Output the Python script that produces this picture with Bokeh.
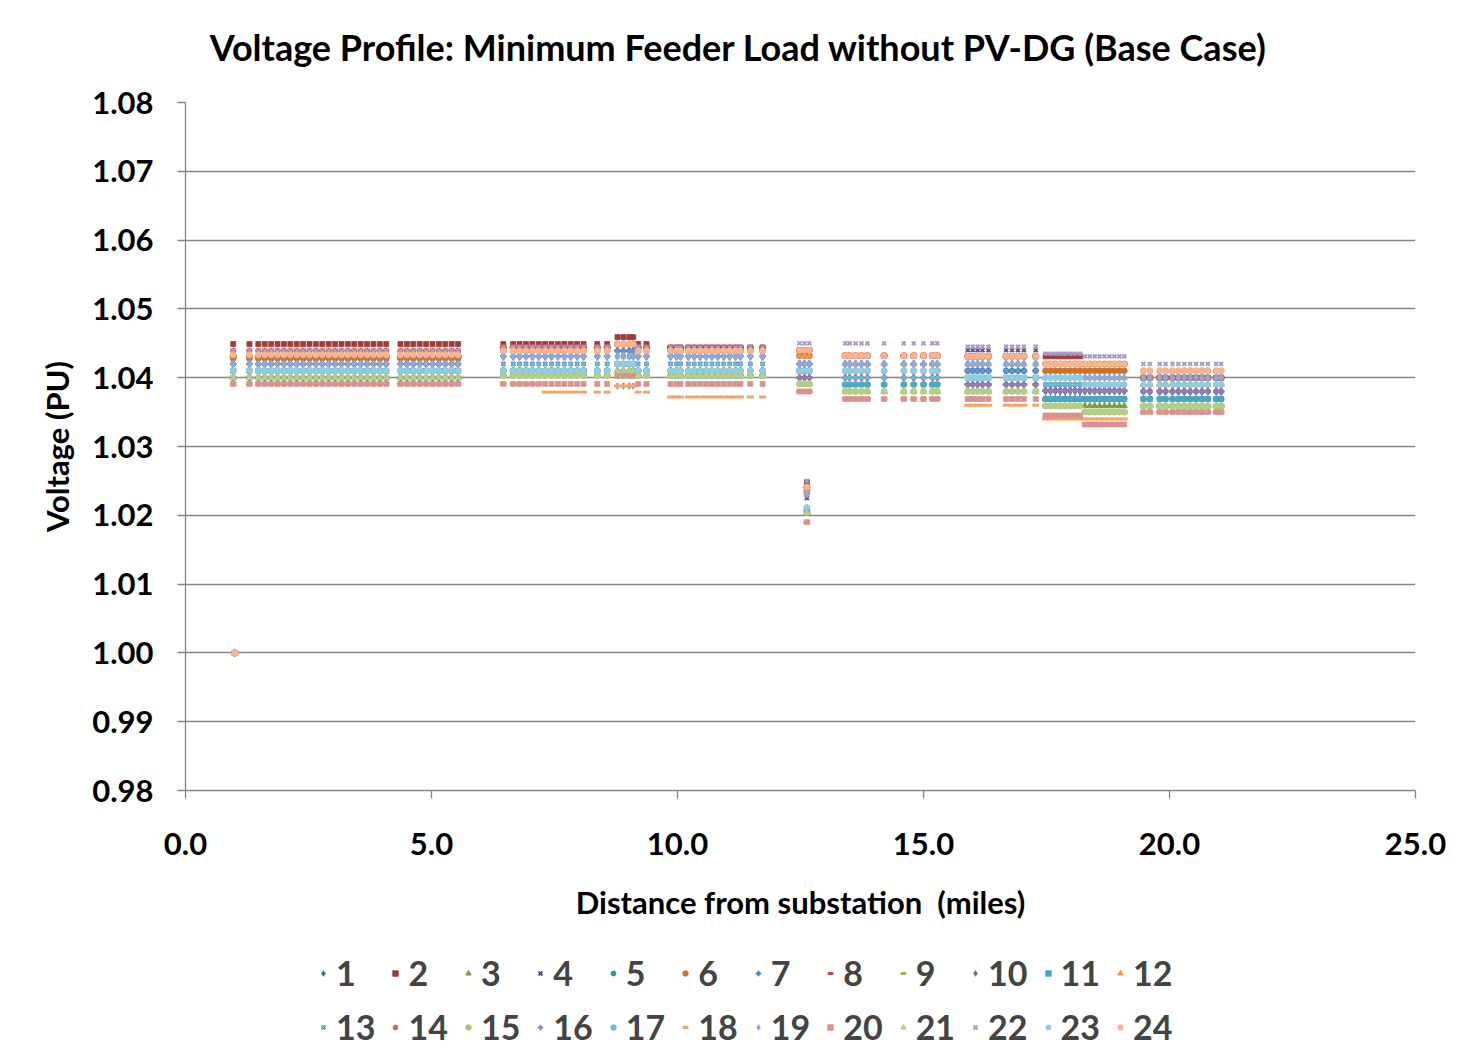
from bokeh.plotting import figure
from bokeh.layouts import column
from bokeh.models import (Legend, LegendItem, FixedTicker, NumeralTickFormatter, Range1d, Label)
from bokeh.embed import file_html
from bokeh.resources import INLINE

# ---------------- data ----------------
series_names = [str(i) for i in range(1, 25)]

x_ticks = [0.0, 5.0, 10.0, 15.0, 20.0, 25.0]
y_ticks = [0.98, 0.99, 1.00, 1.01, 1.02, 1.03, 1.04, 1.05, 1.06, 1.07, 1.08]

# node distances (miles) of each feeder section
a_miles = [0.97, 1.30, 1.48, 1.61, 1.74, 1.87, 2.00, 2.13, 2.26, 2.39, 2.52, 2.65, 2.78,
           2.91, 3.04, 3.17, 3.30, 3.43, 3.56, 3.69, 3.82, 3.95, 4.08, 4.37, 4.50, 4.63,
           4.76, 4.89, 5.02, 5.15, 5.28, 5.41, 5.54]
b1_miles = [6.46, 6.66, 6.79, 6.92, 7.05, 7.18]
b2_miles = [7.31, 7.44, 7.57, 7.70, 7.83, 7.96, 8.09, 8.37, 8.57, 9.20, 9.37]
bp_miles = [8.78, 8.90, 9.02, 9.10]
c_miles = [9.86, 9.98, 10.06, 10.22, 10.34, 10.46, 10.58, 10.70, 10.82, 10.94, 11.06,
           11.18, 11.28, 11.48, 11.73]
d_miles = [12.48, 12.58, 12.68]
e_miles = [13.41, 13.50, 13.62, 13.74, 13.86, 14.20, 14.60, 14.80, 15.00, 15.18, 15.28]
f_miles = [15.90, 16.00, 16.10, 16.20, 16.32, 16.68, 16.80, 16.92, 17.04, 17.28]
g1_miles = [17.48, 17.58, 17.68, 17.78, 17.88, 17.98, 18.08, 18.18]
g2_miles = [18.28, 18.38, 18.48, 18.58, 18.68, 18.78, 18.88, 18.98, 19.08]
h_miles = [19.47, 19.60, 19.80, 19.92, 20.06, 20.18, 20.30, 20.42, 20.54, 20.66, 20.78,
           20.95, 21.05]
low_node_mile = 12.63
source_mile = 1.0

# voltage (PU) of series 1..24 in each section
a_pu = [1.0420, 1.0449, 1.0400, 1.0420, 1.0410, 1.0428, 1.0420, 1.0431, 1.0400, 1.0400, 1.0410, 1.0400,
        1.0420, 1.0439, 1.0400, 1.0400, 1.0410, 1.0391, 1.0420, 1.0391, 1.0400, 1.0439, 1.0410, 1.0433]
b1_pu = [1.0431, 1.0449, 1.0403, 1.0420, 1.0410, 1.0439, 1.0431, 1.0444, 1.0403, 1.0410, 1.0410, 1.0403,
         1.0431, 1.0444, 1.0403, 1.0410, 1.0420, 1.0391, 1.0431, 1.0391, 1.0403, 1.0444, 1.0410, 1.0439]
b2_pu = [1.0431, 1.0449, 1.0403, 1.0420, 1.0410, 1.0439, 1.0431, 1.0444, 1.0403, 1.0410, 1.0410, 1.0403,
         1.0431, 1.0444, 1.0403, 1.0410, 1.0420, 1.0379, 1.0431, 1.0391, 1.0403, 1.0444, 1.0410, 1.0439]
bp_pu = [1.0439, 1.0459, 1.0410, 1.0431, 1.0420, 1.0449, 1.0439, 1.0449, 1.0449, 1.0410, 1.0420, 1.0449,
         1.0439, 1.0449, 1.0403, 1.0388, 1.0420, 1.0388, 1.0431, 1.0403, 1.0410, 1.0449, 1.0420, 1.0449]
c_pu = [1.0431, 1.0444, 1.0403, 1.0420, 1.0410, 1.0439, 1.0431, 1.0444, 1.0403, 1.0410, 1.0403, 1.0403,
        1.0431, 1.0439, 1.0403, 1.0410, 1.0420, 1.0372, 1.0431, 1.0391, 1.0403, 1.0444, 1.0410, 1.0439]
d_pu = [1.0420, 1.0440, 1.0391, 1.0420, 1.0410, 1.0432, 1.0420, 1.0440, 1.0400, 1.0400, 1.0410, 1.0432,
        1.0420, 1.0440, 1.0391, 1.0400, 1.0410, 1.0380, 1.0420, 1.0380, 1.0391, 1.0450, 1.0410, 1.0440]
e_pu = [1.0420, 1.0432, 1.0380, 1.0410, 1.0410, 1.0432, 1.0420, 1.0432, 1.0390, 1.0400, 1.0390, 1.0420,
        1.0410, 1.0432, 1.0380, 1.0400, 1.0400, 1.0369, 1.0420, 1.0369, 1.0380, 1.0450, 1.0410, 1.0432]
f_pu = [1.0420, 1.0431, 1.0380, 1.0440, 1.0410, 1.0431, 1.0410, 1.0431, 1.0390, 1.0390, 1.0400, 1.0420,
        1.0410, 1.0431, 1.0380, 1.0390, 1.0400, 1.0360, 1.0420, 1.0369, 1.0380, 1.0445, 1.0400, 1.0431]
g1_pu = [1.0381, 1.0431, 1.0369, 1.0390, 1.0369, 1.0410, 1.0381, 1.0420, 1.0359, 1.0381, 1.0369, 1.0400,
         1.0390, 1.0420, 1.0359, 1.0381, 1.0390, 1.0340, 1.0400, 1.0345, 1.0359, 1.0435, 1.0400, 1.0420]
g2_pu = [1.0381, 1.0420, 1.0359, 1.0390, 1.0369, 1.0410, 1.0381, 1.0420, 1.0350, 1.0381, 1.0369, 1.0400,
         1.0390, 1.0420, 1.0350, 1.0381, 1.0390, 1.0340, 1.0400, 1.0332, 1.0350, 1.0431, 1.0390, 1.0420]
h_pu = [1.0390, 1.0400, 1.0359, 1.0380, 1.0369, 1.0400, 1.0380, 1.0400, 1.0359, 1.0380, 1.0369, 1.0390,
        1.0390, 1.0410, 1.0359, 1.0380, 1.0390, 1.0350, 1.0400, 1.0350, 1.0359, 1.0420, 1.0390, 1.0410]
low_node_pu = [1.0231, 1.0248, 1.0204, 1.0225, 1.0211, 1.0236, 1.0231, 1.0241, 1.0204, 1.0207, 1.0207, 1.0236,
               1.0231, 1.0241, 1.0204, 1.0207, 1.0211, 1.0190, 1.0231, 1.0190, 1.0204, 1.0250, 1.0211, 1.0241]
source_pu = [1.000] * 24

chart_title = "Voltage Profile: Minimum Feeder Load without PV-DG (Base Case)"

# ---------------- styling ----------------
colors = ["#3B639B", "#A13C3A", "#7A9A42", "#654C86", "#3894AA", "#C87332",
          "#4A7EBB", "#BE4B48", "#98B954", "#7D60A0", "#46AAC5", "#F69240",
          "#6C93CB", "#CB6B69", "#A8C66E", "#9580B4", "#66BBD2", "#F8A563",
          "#91A9D6", "#D69392", "#B5CE8E", "#A99BC5", "#92CDDD", "#FAB48C"]
markers = ["diamond", "square", "triangle", "x", "asterisk", "circle",
           "cross", "dash", "dash", "diamond", "square", "triangle",
           "x", "asterisk", "circle", "cross", "circle", "dash",
           "diamond", "square", "triangle", "x", "asterisk", "circle"]
sizes = {"diamond": 8, "square": 5, "triangle": 6.5, "x": 5.5, "asterisk": 6.5,
         "circle": 6, "cross": 6.5, "dash": 7}
line_markers = {"x", "asterisk", "cross", "dash"}

FONT = "Lato"
GRID = "#868686"
W = 1446
TITLE_H = 70
MAIN_H = 870
LEG_H = 107


def strip(height, xr, yr):
    f = figure(width=W, height=height, output_backend="svg", toolbar_location=None,
               x_range=xr, y_range=yr, title=None,
               min_border_left=0, min_border_right=0, min_border_top=0, min_border_bottom=0,
               x_axis_location=None, y_axis_location=None)
    f.xgrid.visible = False
    f.ygrid.visible = False
    f.outline_line_color = None
    return f


# title strip on top (its frame is aligned with the main plot frame, which starts at 185px)
pt = strip(TITLE_H, Range1d(0, 1), Range1d(0, 1))
pt.add_layout(Label(x=553, y=24, x_units="screen", y_units="screen", text=chart_title,
                    text_align="center", text_baseline="middle", text_font=FONT,
                    text_font_style="bold", text_font_size="36px", text_color="black"))

# main chart
p = figure(width=W, height=MAIN_H, output_backend="svg", toolbar_location=None,
           x_range=Range1d(0, 25), y_range=Range1d(0.98, 1.08), title=None,
           min_border_left=185, min_border_right=31, min_border_top=102 - TITLE_H,
           min_border_bottom=MAIN_H + TITLE_H - 790)

# legend-only strip underneath (its ranges keep the series data out of view)
pl = strip(LEG_H, Range1d(-10, -9), Range1d(-10, -9))

sections = [(a_miles, a_pu), (b1_miles, b1_pu), (b2_miles, b2_pu), (bp_miles, bp_pu),
            (c_miles, c_pu), (d_miles, d_pu), (e_miles, e_pu), (f_miles, f_pu),
            (g1_miles, g1_pu), (g2_miles, g2_pu), (h_miles, h_pu)]

items = []
for i, name in enumerate(series_names):
    xs, ys = [], []
    for miles, pu in sections:
        xs += miles
        ys += [pu[i]] * len(miles)
    xs += [low_node_mile, source_mile]
    ys += [low_node_pu[i], source_pu[i]]
    m = markers[i]
    sz = sizes[m]
    if i == 16:
        sz = 4
    lw = 2.0 if m in line_markers else 0.8
    if m == "dash":
        lw = 3
    style = dict(marker=m, size=sz, fill_color=colors[i], line_color=colors[i], line_width=lw)
    p.scatter(xs, ys, **style)
    r_leg = pl.scatter(xs, ys, **style)
    items.append(LegendItem(label=name, renderers=[r_leg]))

# axes
p.xaxis.ticker = FixedTicker(ticks=x_ticks)
p.yaxis.ticker = FixedTicker(ticks=y_ticks)
p.xaxis.formatter = NumeralTickFormatter(format="0.0")
p.yaxis.formatter = NumeralTickFormatter(format="0.00")
for ax in (p.xaxis, p.yaxis):
    ax.axis_line_color = GRID
    ax.axis_line_width = 1.3
    ax.major_tick_line_color = GRID
    ax.major_tick_line_width = 1.3
    ax.major_tick_out = 8
    ax.major_tick_in = 0
    ax.minor_tick_line_color = None
    ax.major_label_text_font = FONT
    ax.major_label_text_font_style = "bold"
    ax.major_label_text_font_size = "31px"
    ax.major_label_text_color = "black"
    ax.axis_label_text_font = FONT
    ax.axis_label_text_font_style = "bold"
    ax.axis_label_text_font_size = "31px"
    ax.axis_label_text_color = "black"

p.xaxis.axis_label = "Distance from substation\u00a0\u00a0(miles)"
p.yaxis.axis_label = "Voltage (PU)"
p.xaxis.major_label_standoff = 34
p.xaxis.axis_label_standoff = 25
p.yaxis.major_label_standoff = 24
p.yaxis.axis_label_standoff = 13

p.xgrid.visible = False
p.ygrid.grid_line_color = GRID
p.ygrid.grid_line_width = 1.3
p.outline_line_color = None

legend = Legend(items=items, orientation="horizontal", ncols=12,
                location=(131, 0), padding=0, margin=0, spacing=13,
                glyph_width=14, glyph_height=14, label_standoff=6,
                label_width=0, label_height=30,
                label_text_font=FONT, label_text_font_style="bold",
                label_text_font_size="34px",
                background_fill_alpha=0, border_line_color=None)
pl.add_layout(legend, "center")

layout = column(pt, p, pl, spacing=0)
open("out.html", "w").write(file_html(layout, INLINE))
